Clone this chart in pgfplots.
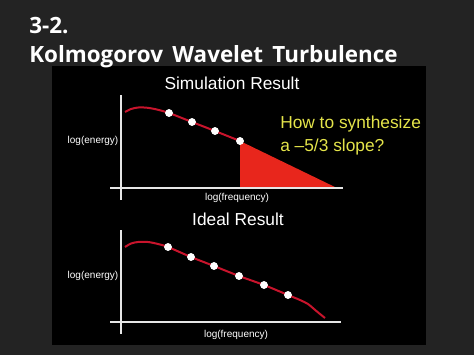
\documentclass[border=0pt]{standalone}
\usepackage{pgfplots}
\pgfplotsset{compat=1.18}
\usepackage{fontspec}
\setmainfont{Liberation Sans}
\newfontfamily\titlefont{Open Sans}
\definecolor{bg}{HTML}{232323}
\definecolor{curve}{HTML}{C8142C}
\definecolor{tri}{HTML}{E8261C}
\definecolor{ylw}{HTML}{E4E44A}
\definecolor{axl}{HTML}{E6E6E6}
\begin{document}
\begin{tikzpicture}
\begin{axis}[
  scale only axis, width=355.5pt, height=266.25pt,
  xmin=0, xmax=474, ymin=0, ymax=355, y dir=reverse,
  hide axis, clip=false,
  axis background/.style={fill=bg},
]
% black panel
\fill[black] (axis cs:52,66) rectangle (axis cs:426,345);
% title
\node[anchor=base west, text=white, font=\titlefont\bfseries\fontsize{16.8pt}{19pt}\selectfont, inner sep=0pt] at (axis cs:29,33) {3-2.};
\node[anchor=base west, text=white, font=\titlefont\bfseries\fontsize{16.8pt}{19pt}\selectfont, inner sep=0pt] at (axis cs:29,62) {Kolmogorov\hspace{0.42em}Wavelet\hspace{0.42em}Turbulence};

% ---------- top plot ----------
\addplot[fill=tri, draw=none] coordinates {(240,141) (240,188) (337,188)} -- cycle;
\addplot[axl, line width=1.1pt] coordinates {(121,95) (121,200)};
\addplot[axl, line width=1.1pt] coordinates {(110,188) (343,188)};
\addplot[curve, line width=1.5pt, smooth, tension=0.5] coordinates {
 (125,112) (131,109) (138,107.5) (146,107.6) (156,109.3) (169,113) (192,122) (215,131) (240,141)};
\addplot[only marks, mark=*, mark size=2.7pt, white] coordinates {
 (169,113) (192,122) (215,131) (240,141)};
\node[text=white, font=\fontsize{13pt}{15pt}\selectfont] at (axis cs:232,83) {Simulation Result};
\node[text=white, font=\fontsize{7.5pt}{9pt}\selectfont] at (axis cs:93,141) {log(energy)};
\node[text=white, font=\fontsize{7.5pt}{9pt}\selectfont] at (axis cs:237,198) {log(frequency)};
\node[anchor=base west, inner sep=0pt, text=ylw, font=\fontsize{13pt}{15pt}\selectfont] at (axis cs:280,128) {How to synthesize};
\node[anchor=base west, inner sep=0pt, text=ylw, font=\fontsize{13pt}{15pt}\selectfont] at (axis cs:280,151) {a –5/3 slope?};

% ---------- bottom plot ----------
\addplot[axl, line width=1.1pt] coordinates {(121,230) (121,334)};
\addplot[axl, line width=1.1pt] coordinates {(110,322) (341,322)};
\addplot[curve, line width=1.5pt, smooth, tension=0.5] coordinates {
 (125,247) (131,243.5) (138,242) (148,242) (158,244) (168,247) (191,257) (214,266) (239,276) (264,285) (288,295) (300,300) (308,304) (314,309) (320,314) (325,318)};
\addplot[only marks, mark=*, mark size=2.7pt, white] coordinates {
 (168,247) (191,257) (214,266) (239,276) (264,285) (288,295)};
\node[text=white, font=\fontsize{13pt}{15pt}\selectfont] at (axis cs:238,219) {Ideal Result};
\node[text=white, font=\fontsize{7.5pt}{9pt}\selectfont] at (axis cs:93,276) {log(energy)};
\node[text=white, font=\fontsize{7.5pt}{9pt}\selectfont] at (axis cs:236,335) {log(frequency)};
\end{axis}
\end{tikzpicture}
\end{document}
